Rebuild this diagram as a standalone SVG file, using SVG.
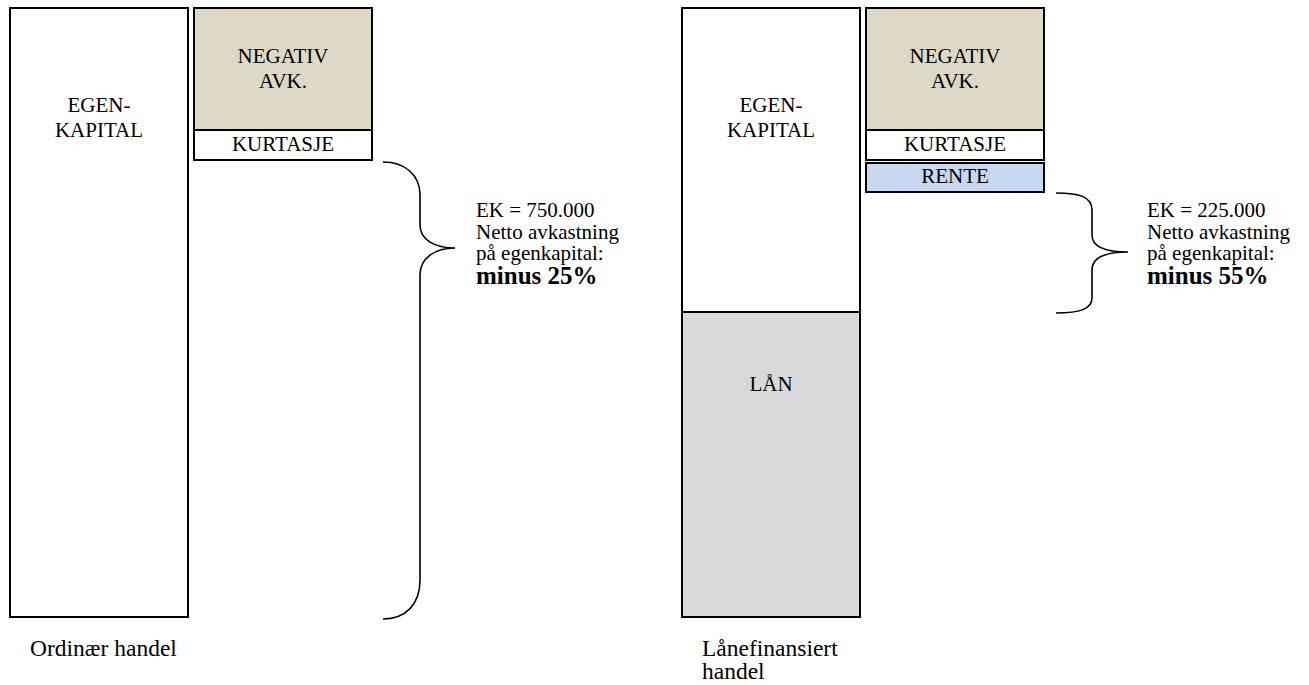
<svg xmlns="http://www.w3.org/2000/svg" width="1309" height="685" viewBox="0 0 1309 685">
<style>
.b{stroke:#000;stroke-width:2;}
.t{font-family:'Liberation Serif','Times New Roman',serif;font-size:21px;fill:#000;}
.c{text-anchor:middle;}
.m{font-weight:bold;font-size:25px;}
.l{font-size:23.5px;}
.br{fill:none;stroke:#000;stroke-width:1.6;}
</style>
<rect width="1309" height="685" fill="#fff"/>
<g id="ordinaer">
<g id="ek1"><rect class="b" x="10" y="8" width="178" height="609" fill="#fff"/>
<text class="t c" x="99" y="112">EGEN-</text><text class="t c" x="99" y="137">KAPITAL</text></g>
<g id="neg1"><rect class="b" x="194" y="8" width="178" height="122" fill="#ddd9c4"/>
<text class="t c" x="283" y="63">NEGATIV</text><text class="t c" x="283" y="88">AVK.</text></g>
<g id="kurt1"><rect class="b" x="194" y="130" width="178" height="30" fill="#fff"/>
<text class="t c" x="283" y="151">KURTASJE</text></g>
<g id="note1"><text class="t" x="476" y="217">EK = 750.000</text><text class="t" x="476" y="238.5">Netto avkastning</text><text class="t" x="476" y="260">på egenkapital:</text><text class="t m" x="476" y="284">minus 25%</text></g>
<text id="lbl1" class="t l" x="30" y="656">Ordinær handel</text>
</g>
<g id="laan">
<g id="ek2"><rect class="b" x="682" y="8" width="178" height="304" fill="#fff"/>
<text class="t c" x="771" y="112">EGEN-</text><text class="t c" x="771" y="137">KAPITAL</text></g>
<g id="lan"><rect class="b" x="682" y="312" width="178" height="305" fill="#d9d9d9"/>
<text class="t c" x="771" y="391">LÅN</text></g>
<g id="neg2"><rect class="b" x="866" y="8" width="178" height="122" fill="#ddd9c4"/>
<text class="t c" x="955" y="63">NEGATIV</text><text class="t c" x="955" y="88">AVK.</text></g>
<g id="kurt2"><rect class="b" x="866" y="130" width="178" height="30" fill="#fff"/>
<text class="t c" x="955" y="151">KURTASJE</text></g>
<g id="rente"><rect class="b" x="866" y="163" width="178" height="29" fill="#c6d9f1"/>
<text class="t c" x="955" y="183">RENTE</text></g>
<g id="note2"><text class="t" x="1147" y="217">EK = 225.000</text><text class="t" x="1147" y="238.5">Netto avkastning</text><text class="t" x="1147" y="260">på egenkapital:</text><text class="t m" x="1147" y="284">minus 55%</text></g>
<g id="lbl2"><text class="t l" x="702" y="656">Lånefinansiert</text><text class="t l" x="702" y="679">handel</text></g>
</g>
<g id="connectors">
<path class="br" d="M383,162 C405,162 420,175 420,195 L420,225 C420,240 435,248 455,248 C435,248 420,258 420,275 L420,580 C420,605 405,619 383,619"/>
<path class="br" d="M1056,193 C1080,193 1092,197 1092,210 L1092,235 C1092,247 1105,252 1128,252 C1105,252 1092,257 1092,270 L1092,298 C1092,309 1080,313 1056,313"/>
</g>
</svg>
